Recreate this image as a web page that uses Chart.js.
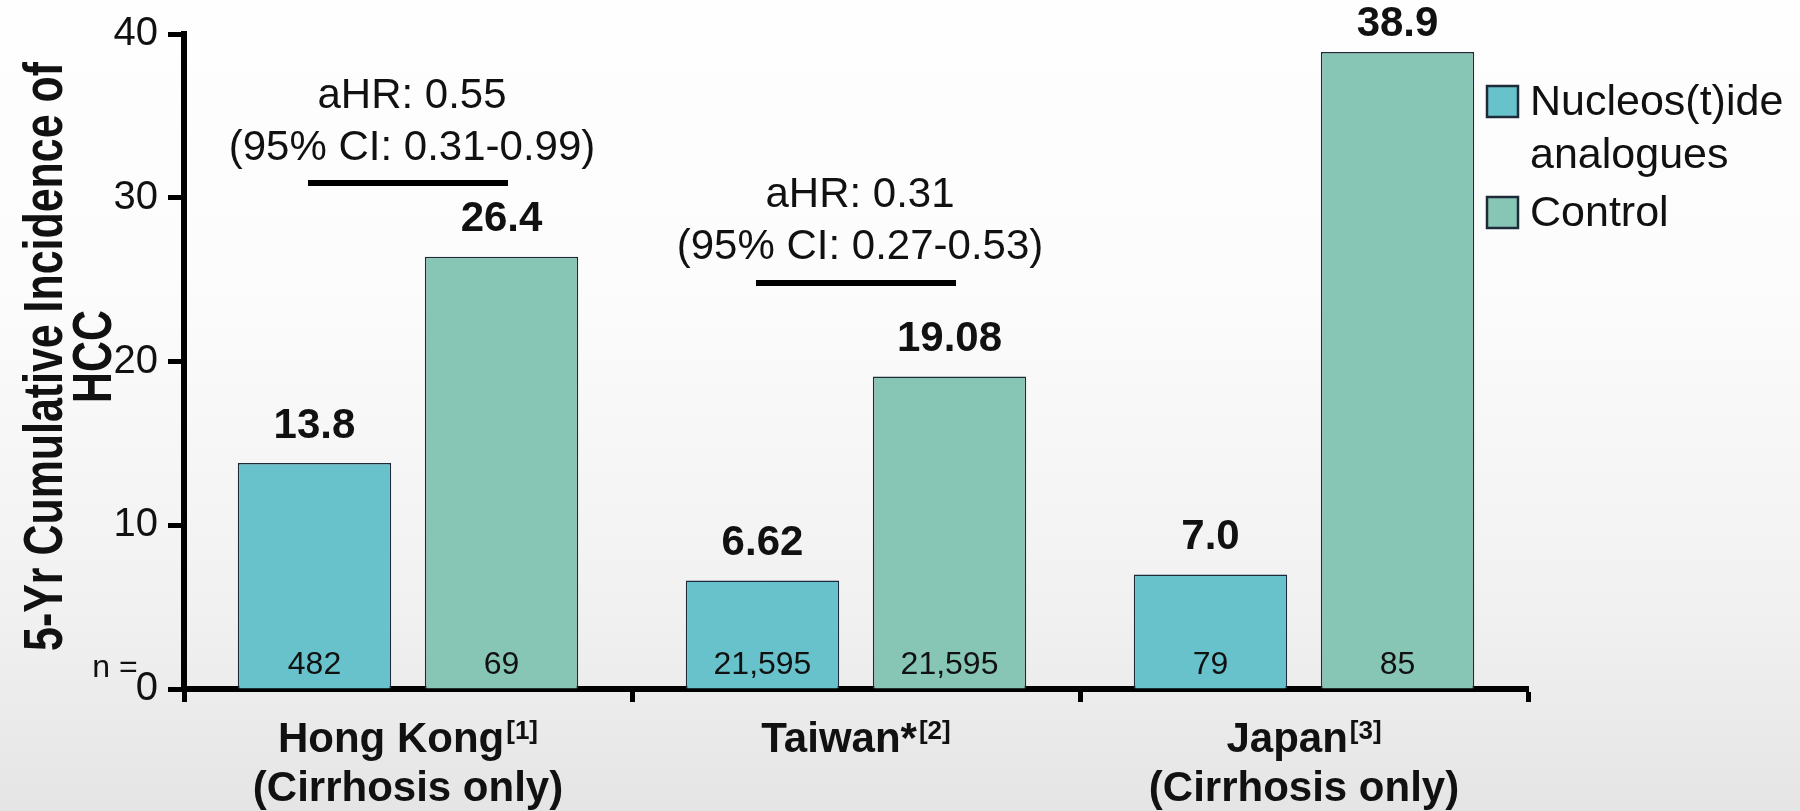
<!DOCTYPE html>
<html>
<head>
<meta charset="utf-8">
<title>5-Yr Cumulative Incidence of HCC</title>
<script src="https://cdn.jsdelivr.net/npm/chart.js@4.4.1/dist/chart.umd.min.js"></script>
<style>
  html, body { margin: 0; padding: 0; }
  body {
    width: 1800px; height: 811px; overflow: hidden;
    background: linear-gradient(to bottom, #fefefe 0%, #fcfcfc 35%, #f1f1f1 75%, #e5e5e5 100%);
  }
  #wrap { position: relative; width: 1800px; height: 811px; }
</style>
</head>
<body>
<div id="wrap"><canvas id="hcc" width="1800" height="811"></canvas></div>
<script>
// Study cohorts on the x axis
const categories = ['Hong Kong', 'Taiwan*', 'Japan'];
const categoryRefs = ['[1]', '[2]', '[3]'];
const categoryNotes = ['(Cirrhosis only)', '', '(Cirrhosis only)'];

// 5-year cumulative incidence of HCC (%)
const seriesNames = [['Nucleos(t)ide', 'analogues'], ['Control']];
const nucleosValues = [13.8, 6.62, 7.0];
const controlValues = [26.4, 19.08, 38.9];
const labelDecimals = [1, 2, 1];

// Patients per arm
const nucleosN = ['482', '21,595', '79'];
const controlN = ['69', '21,595', '85'];

// Adjusted hazard ratios, shown over the first two cohorts
const hrCategories = [0, 1];
const hrText = [['aHR: 0.55', '(95% CI: 0.31-0.99)'], ['aHR: 0.31', '(95% CI: 0.27-0.53)']];
const hrLineLevels = [30.9, 24.8];

// Y axis
const yMin = 0, yMax = 40, yStep = 10;
const yTitle = ['5-Yr Cumulative Incidence of', 'HCC'];

const FONT = "'Liberation Sans', Arial, Helvetica, sans-serif";
const INK = '#111111';
const COLORS = ['#67C2CB', '#87C6B5'];
const EDGE = '#1d2b38';

const annotations = {
  id: 'annotations',
  afterDatasetsDraw(chart) {
    const ctx = chart.ctx;
    const x = chart.scales.x, y = chart.scales.y;
    ctx.save();
    ctx.fillStyle = INK;
    ctx.textAlign = 'center';
    ctx.textBaseline = 'middle';

    // value labels above the bars (kept inside the canvas) and group sizes inside them
    const sizes = [nucleosN, controlN];
    chart.data.datasets.forEach((ds, di) => {
      const meta = chart.getDatasetMeta(di);
      meta.data.forEach((bar, i) => {
        ctx.font = 'bold 42px ' + FONT;
        ctx.fillText(ds.data[i].toFixed(labelDecimals[i]), bar.x, Math.max(bar.y - 37, 24));
        ctx.font = '32px ' + FONT;
        ctx.fillText(sizes[di][i], bar.x, y.getPixelForValue(0) - 24);
      });
    });
    ctx.font = '32px ' + FONT;
    ctx.fillText('n =', 115, y.getPixelForValue(0) - 21);

    // hazard-ratio brackets
    hrCategories.forEach((ci, k) => {
      const a = chart.getDatasetMeta(0).data[ci].x;
      const b = chart.getDatasetMeta(1).data[ci].x;
      const mid = (a + b) / 2;
      const ly = y.getPixelForValue(hrLineLevels[k]);
      ctx.strokeStyle = '#000';
      ctx.lineWidth = 6;
      ctx.beginPath();
      ctx.moveTo(mid - 100, ly);
      ctx.lineTo(mid + 100, ly);
      ctx.stroke();
      ctx.font = '42px ' + FONT;
      ctx.fillText(hrText[k][0], mid + 4, ly - 87);
      ctx.fillText(hrText[k][1], mid + 4, ly - 35);
    });

    // category labels with reference superscripts
    categories.forEach((name, i) => {
      const cx = x.getPixelForValue(i);
      ctx.font = 'bold 42px ' + FONT;
      const w1 = ctx.measureText(name).width;
      ctx.font = 'bold 26px ' + FONT;
      const w2 = ctx.measureText(categoryRefs[i]).width + 2;
      const left = cx - (w1 + w2) / 2;
      ctx.textAlign = 'left';
      ctx.textBaseline = 'alphabetic';
      ctx.font = 'bold 42px ' + FONT;
      ctx.fillText(name, left, 752);
      ctx.font = 'bold 26px ' + FONT;
      ctx.fillText(categoryRefs[i], left + w1 + 2, 739);
      ctx.textAlign = 'center';
      ctx.textBaseline = 'middle';
      if (categoryNotes[i]) {
        ctx.font = 'bold 42px ' + FONT;
        ctx.fillText(categoryNotes[i], cx, 789);
      }
    });

    // rotated y-axis title, narrow bold face
    ctx.save();
    ctx.translate(71, (chart.chartArea.top + chart.chartArea.bottom) / 2 - 5);
    ctx.rotate(-Math.PI / 2);
    ctx.scale(0.78, 1);
    ctx.font = 'bold 55px ' + FONT;
    ctx.fillText(yTitle[0], 0, -24);
    ctx.fillText(yTitle[1], 0, 25);
    ctx.restore();

    // legend
    let top = 86;
    chart.data.datasets.forEach((ds, di) => {
      ctx.fillStyle = ds.backgroundColor;
      ctx.fillRect(1487, top, 31, 31);
      ctx.strokeStyle = EDGE;
      ctx.lineWidth = 2.5;
      ctx.strokeRect(1487, top, 31, 31);
      ctx.fillStyle = INK;
      ctx.textAlign = 'left';
      ctx.font = '43px ' + FONT;
      seriesNames[di].forEach((line, li) => {
        ctx.fillText(line, 1530, top + 17 + li * 53);
      });
      top += 111;
    });
    ctx.restore();
  }
};

new Chart(document.getElementById('hcc'), {
  type: 'bar',
  data: {
    labels: categories,
    datasets: [
      { label: seriesNames[0].join(' '), data: nucleosValues, backgroundColor: COLORS[0] },
      { label: seriesNames[1].join(' '), data: controlValues, backgroundColor: COLORS[1] }
    ]
  },
  options: {
    responsive: false,
    animation: false,
    devicePixelRatio: 1,
    layout: { padding: { top: 29, right: 272, left: 0, bottom: 0 } },
    datasets: {
      bar: {
        categoryPercentage: 0.835,
        barPercentage: 0.82,
        borderColor: EDGE,
        borderWidth: 1.5
      }
    },
    plugins: {
      legend: { display: false },
      tooltip: { enabled: false }
    },
    scales: {
      x: {
        afterFit(scale) { scale.height = 122; },
        ticks: { display: false },
        grid: {
          display: true,
          drawOnChartArea: false,
          drawTicks: true,
          tickLength: 13,
          tickWidth: 5,
          tickColor: '#000',
          offset: true
        },
        border: { display: true, color: '#000', width: 6 }
      },
      y: {
        min: yMin,
        max: yMax,
        afterFit(scale) { scale.width = 184; },
        ticks: {
          stepSize: yStep,
          padding: 10,
          color: INK,
          font: { family: FONT, size: 40 }
        },
        grid: {
          display: true,
          drawOnChartArea: false,
          drawTicks: true,
          tickLength: 16,
          tickWidth: 5,
          tickColor: '#000'
        },
        border: { display: true, color: '#000', width: 6 }
      }
    }
  },
  plugins: [annotations]
});
</script>
</body>
</html>
